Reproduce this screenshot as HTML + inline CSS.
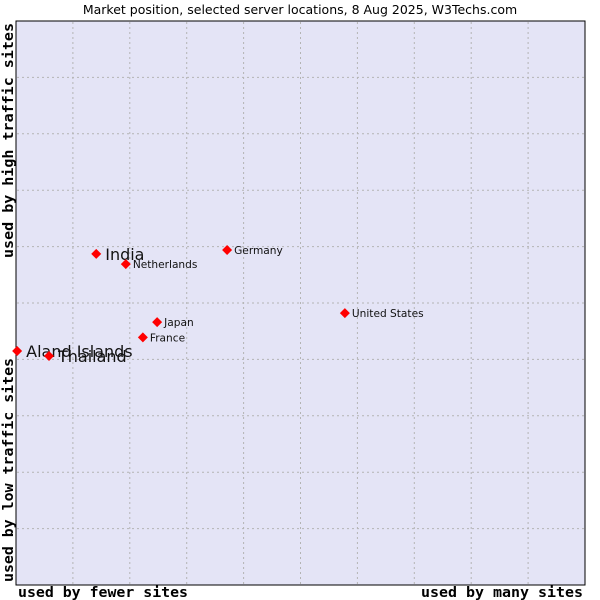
<!DOCTYPE html>
<html><head><meta charset="utf-8"><style>
body{margin:0;background:#fff;width:600px;height:600px;overflow:hidden}
svg{display:block}
</style></head><body>
<svg id="chart" width="600" height="600" xmlns="http://www.w3.org/2000/svg">
<text x="300" y="14" text-anchor="middle" font-family="DejaVu Sans, sans-serif" font-size="12.5" fill="#000">Market position, selected server locations, 8 Aug 2025, W3Techs.com</text>
<rect x="16" y="21" width="569" height="564" fill="#e4e4f6" stroke="#000" stroke-width="1"/>
<g id="grid"></g>
<g id="points"></g>
<text x="18" y="597" textLength="170" lengthAdjust="spacingAndGlyphs" font-family="DejaVu Sans Mono, monospace" font-size="14" font-weight="bold" fill="#000">used by fewer sites</text>
<text x="421" y="597" textLength="162" lengthAdjust="spacingAndGlyphs" font-family="DejaVu Sans Mono, monospace" font-size="14" font-weight="bold" fill="#000">used by many sites</text>
<text transform="translate(13,258) rotate(-90)" textLength="235" lengthAdjust="spacingAndGlyphs" font-family="DejaVu Sans Mono, monospace" font-size="14" font-weight="bold" fill="#000">used by high traffic sites</text>
<text transform="translate(13,582) rotate(-90)" textLength="224" lengthAdjust="spacingAndGlyphs" font-family="DejaVu Sans Mono, monospace" font-size="14" font-weight="bold" fill="#000">used by low traffic sites</text>
</svg>
<script>
const countries = ["India","Netherlands","Germany","United States","Japan","France","Aland Islands","Thailand"];
const xValues = [14.1,19.3,37.1,57.8,24.8,22.3,0.2,5.8];
const yValues = [58.7,56.9,59.4,48.2,46.6,43.9,41.5,40.6];
const labelSizes = [16,10.6,10.6,10.6,10.6,10.6,16,16];
const NS="http://www.w3.org/2000/svg";
const X0=16,X1=585,Y0=585,Y1=21;
const xs=v=>X0+(X1-X0)*v/100;
const ys=v=>Y0-(Y0-Y1)*v/100;
const grid=document.getElementById('grid');
for(let i=1;i<10;i++){
  const v=document.createElementNS(NS,'line');
  
  
  v.setAttribute('x1',xs(i*10));v.setAttribute('x2',xs(i*10));v.setAttribute('y1',Y1+1);v.setAttribute('y2',Y0-1);
  v.setAttribute('stroke','#b4b4b4');v.setAttribute('stroke-dasharray','2,3');
  grid.appendChild(v);
  const h=document.createElementNS(NS,'line');
  
  
  h.setAttribute('y1',ys(i*10));h.setAttribute('y2',ys(i*10));h.setAttribute('x1',X0+1);h.setAttribute('x2',X1-1);
  h.setAttribute('stroke','#b4b4b4');h.setAttribute('stroke-dasharray','2,3');
  grid.appendChild(h);
}
const pts=document.getElementById('points');
countries.forEach((c,i)=>{
  const x=xs(xValues[i]),y=ys(yValues[i]);
  const p=document.createElementNS(NS,'polygon');
  
  
  p.setAttribute('points',`${x},${y-5} ${x+5},${y} ${x},${y+5} ${x-5},${y}`);
  p.setAttribute('fill','#f00');
  pts.appendChild(p);
  const t=document.createElementNS(NS,'text');
  
  
  t.setAttribute('x',x+(labelSizes[i]>12?9:7));
  t.setAttribute('y',y+(labelSizes[i]>12?6:4));
  t.setAttribute('font-family','DejaVu Sans, sans-serif');
  t.setAttribute('font-size',labelSizes[i]);
  t.setAttribute('fill','#111');
  t.textContent=c;
  pts.appendChild(t);
});
</script>
</body></html>
